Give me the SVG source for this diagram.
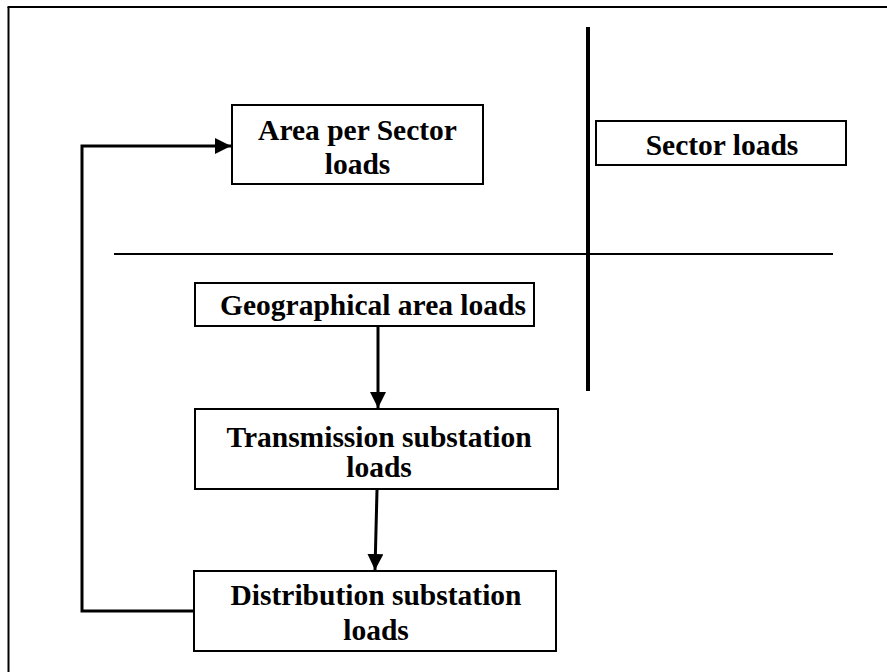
<svg xmlns="http://www.w3.org/2000/svg" width="887" height="672" viewBox="0 0 887 672">
<defs>
<style>
.box{fill:#fff;stroke:#000;stroke-width:2}
.lbl{font-family:"Liberation Serif","Times New Roman",serif;font-weight:bold;font-size:29.5px;fill:#000;text-anchor:middle}
.ln{stroke:#000;fill:none}
</style>
<marker id="ah" viewBox="0 0 10 10" refX="10" refY="5" markerWidth="16" markerHeight="16" markerUnits="userSpaceOnUse" orient="auto">
<path d="M0,0 L10,5 L0,10 Z" fill="#000"/>
</marker>
</defs>
<rect width="887" height="672" fill="#fff"/>
<g id="frame">
<line class="ln" x1="8.5" y1="7" x2="8.5" y2="672" stroke-width="2"/>
<line class="ln" x1="7.5" y1="7" x2="887" y2="7" stroke-width="2"/>
<line class="ln" x1="588" y1="27" x2="588" y2="391" stroke-width="4"/>
<line class="ln" x1="114" y1="254" x2="833" y2="254" stroke-width="2"/>
</g>
<g id="connectors">
<line class="ln" x1="378" y1="327" x2="378" y2="408" stroke-width="3" marker-end="url(#ah)"/>
<line class="ln" x1="377" y1="490" x2="375" y2="570" stroke-width="3" marker-end="url(#ah)"/>
<polyline class="ln" points="194,611 82,611 82,146 231,146" stroke-width="3" marker-end="url(#ah)"/>
</g>
<g id="area-per-sector">
<rect class="box" x="232" y="105" width="251" height="79"/>
<text class="lbl" x="357.5" y="140">Area per Sector</text>
<text class="lbl" x="357.5" y="174">loads</text>
</g>
<g id="sector-loads">
<rect class="box" x="596" y="121" width="250" height="44"/>
<text class="lbl" x="722" y="155">Sector loads</text>
</g>
<g id="geographical">
<rect class="box" x="195" y="283" width="339" height="43"/>
<text class="lbl" x="373" y="315">Geographical area loads</text>
</g>
<g id="transmission">
<rect class="box" x="195" y="409" width="363" height="80"/>
<text class="lbl" x="379" y="447">Transmission substation</text>
<text class="lbl" x="379" y="477">loads</text>
</g>
<g id="distribution">
<rect class="box" x="194" y="571" width="362" height="80"/>
<text class="lbl" x="376" y="605">Distribution substation</text>
<text class="lbl" x="376" y="640">loads</text>
</g>
</svg>
